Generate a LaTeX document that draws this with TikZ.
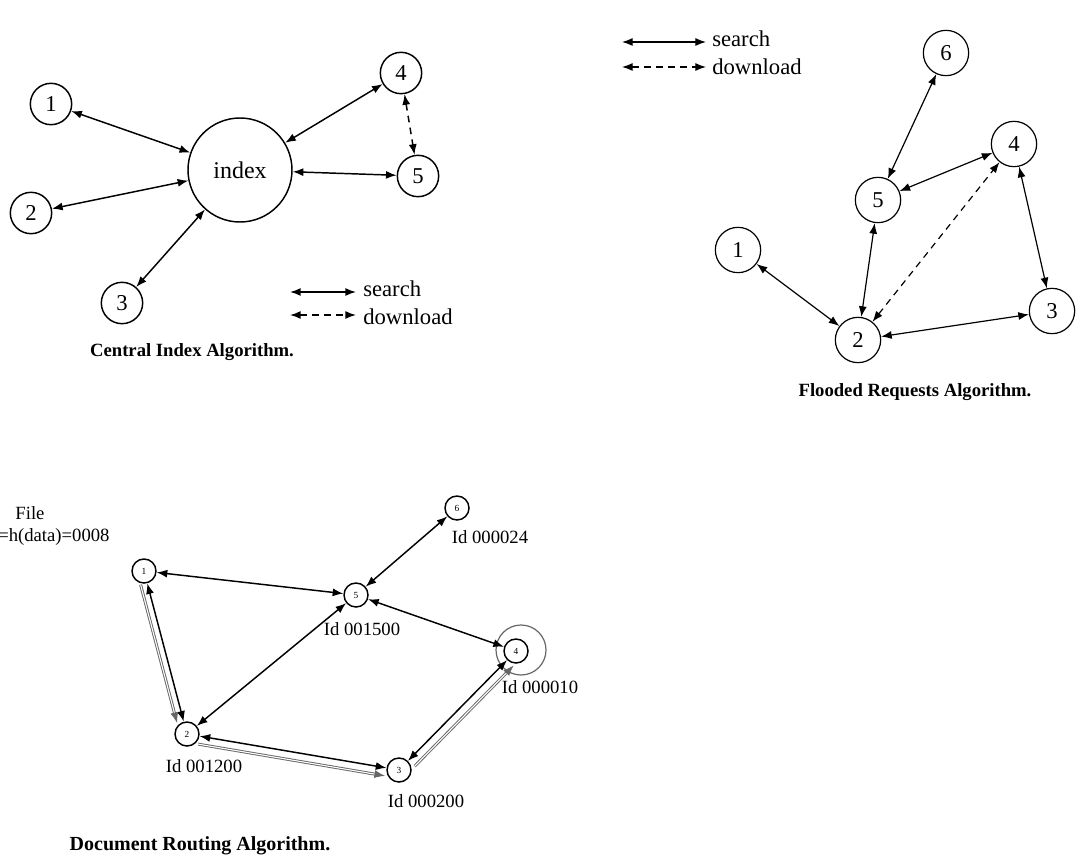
\documentclass[tikz,border=0pt]{standalone}
\usepackage{fontspec}
\setmainfont{Liberation Serif}
\usetikzlibrary{arrows.meta}

\tikzset{
  peer/.style={circle, draw, line width=1.1pt, minimum size=31, inner sep=0pt, font=\fontsize{17}{19}\selectfont},
  bigpeer/.style={peer, minimum size=34, line width=0.9pt},
  smallpeer/.style={circle, draw, line width=1.1pt, minimum size=18, inner sep=0pt, font=\fontsize{7}{8}\selectfont},
  bothway/.style={{Latex[length=8pt,width=6pt]}-{Latex[length=8pt,width=6pt]}, line width=1.1pt},
  bothdash/.style={bothway, dash pattern=on 5pt off 4pt},
  route/.style={-{Latex[length=8pt,width=6pt]}, draw=gray!80!black, double=white, double distance=0.8pt, line width=0.7pt},
  legtext/.style={anchor=west, inner sep=0.75pt, font=\fontsize{17}{19}\selectfont},
  idtext/.style={inner sep=0.75pt, font=\fontsize{14}{16}\selectfont},
  caption/.style={inner sep=0.75pt, font=\bfseries\fontsize{14}{16}\selectfont}
}

\begin{document}
\begin{tikzpicture}[x=0.75pt,y=0.75pt,yscale=-1,xscale=1]
\useasboundingbox (0,0) rectangle (1078,856);

%Central Index [id:ci]
\node[peer] (c1) at (51,104) {1};
\node[peer] (c2) at (31,213) {2};
\node[peer] (c3) at (122,303) {3};
\node[peer] (c4) at (401,73) {4};
\node[peer] (c5) at (418,176) {5};
\node[circle, draw, line width=1.1pt, minimum size=78, inner sep=0pt, font=\fontsize{18}{20}\selectfont] (cidx) at (240,170) {index};
\draw[bothway] (c1) -- (cidx);
\draw[bothway] (c2) -- (cidx);
\draw[bothway] (c3) -- (cidx);
\draw[bothway] (c4) -- (cidx);
\draw[bothway] (c5) -- (cidx);
\draw[bothdash] (c4) -- (c5);
% Legend
\coordinate (cla) at (290,292); \coordinate (clb) at (356,292);
\coordinate (clc) at (290,315); \coordinate (cld) at (356,315);
\draw[bothway] (cla) -- (clb);
\draw[bothdash] (clc) -- (cld);
\node[legtext] (cls) at (362,289) {search};
\node[legtext] (cdl) at (362,317) {download};
% Text Node
\node[caption] (ccap) at (192,352) {Central Index Algorithm.};

%Flooded Requests [id:fr]
\node[bigpeer] (f1) at (738,250) {1};
\node[bigpeer] (f2) at (858,340) {2};
\node[bigpeer] (f3) at (1052,311) {3};
\node[bigpeer] (f4) at (1014,144) {4};
\node[bigpeer] (f5) at (878,200) {5};
\node[bigpeer] (f6) at (946,53) {6};
\draw[bothway, line width=0.9pt] (f6) -- (f5);
\draw[bothway, line width=0.9pt] (f5) -- (f4);
\draw[bothway, line width=0.9pt] (f5) -- (f2);
\draw[bothway, line width=0.9pt] (f1) -- (f2);
\draw[bothway, line width=0.9pt] (f2) -- (f3);
\draw[bothway, line width=0.9pt] (f4) -- (f3);
\draw[bothdash, line width=0.9pt] (f2) -- (f4);
% Legend
\coordinate (fla) at (622,42); \coordinate (flb) at (706,42);
\coordinate (flc) at (622,67); \coordinate (fld) at (706,67);
\draw[bothway, line width=0.9pt] (fla) -- (flb);
\draw[bothdash, line width=0.9pt] (flc) -- (fld);
\node[legtext] (fls) at (711,39) {search};
\node[legtext] (fdl) at (711,67) {download};
% Text Node
\node[caption] (fcap) at (915,392) {Flooded Requests Algorithm.};

%Document Routing [id:dr]
\node[smallpeer] (d1) at (144,571) {1};
\node[smallpeer] (d2) at (187,734) {2};
\node[smallpeer] (d3) at (399,770) {3};
\node[smallpeer] (d4) at (516,651) {4};
\node[smallpeer] (d5) at (356,595) {5};
\node[smallpeer] (d6) at (457,508) {6};
\draw[draw=gray!80!black, line width=0.9pt] (521,650) circle (25);
\draw[bothway] (d1) -- (d5);
\draw[bothway] (d1) -- (d2);
\draw[bothway] (d2) -- (d5);
\draw[bothway] (d2) -- (d3);
\draw[bothway] (d3) -- (d4);
\draw[bothway] (d5) -- (d4);
\draw[bothway] (d5) -- (d6);
\draw[route, transform canvas={xshift=-5pt, yshift=-1pt}] (d1) -- (d2);
\draw[route, transform canvas={yshift=-6pt, xshift=-1pt}] (d2) -- (d3);
\draw[route, transform canvas={xshift=5pt, yshift=-4pt}] (d3) -- (d4);
% Text Node
\node[idtext] (dfile) at (30,513) {File};
\node[idtext, anchor=west] (dkey) at (-3,537) {=h(data)=0008};
\node[idtext] (did6) at (490,537) {Id 000024};
\node[idtext] (did5) at (362,629) {Id 001500};
\node[idtext] (did4) at (540,687) {Id 000010};
\node[idtext] (did2) at (204,766) {Id 001200};
\node[idtext] (did3) at (426,801) {Id 000200};
\node[caption, font=\bfseries\fontsize{15}{17}\selectfont] (dcap) at (200,846) {Document Routing Algorithm.};

\end{tikzpicture}
\end{document}
